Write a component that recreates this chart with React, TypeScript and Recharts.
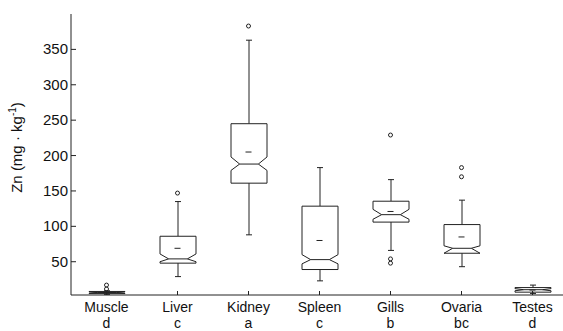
import { ComposedChart, Bar, Scatter, XAxis, YAxis } from 'recharts';

const categories = ['Muscle', 'Liver', 'Kidney', 'Spleen', 'Gills', 'Ovaria', 'Testes'];
const groups = ['d', 'c', 'a', 'c', 'b', 'bc', 'd'];
const whiskerLow = [3.5, 29, 88, 23, 66, 43, 5];
const q1 = [5, 48, 161, 39, 106, 62, 7];
const notchLow = [5.5, 50, 179, 47, 110, 62, 9];
const median = [6.5, 54, 188, 53, 116.5, 69, 10.5];
const notchHigh = [7.5, 61, 198, 60, 124, 72.5, 12];
const q3 = [8, 86, 245, 128.5, 135.5, 102.5, 13.5];
const whiskerHigh = [9, 135, 363, 183, 166, 137, 17];
const means = [6, 69, 205, 80, 121, 85, 10];
const outlierCats = ['Muscle', 'Muscle', 'Liver', 'Kidney', 'Gills', 'Gills', 'Gills', 'Ovaria', 'Ovaria'];
const outlierValues = [11.5, 17, 147, 383, 229, 48, 54, 170, 183];
const yTicks = [50, 100, 150, 200, 250, 300, 350];

const boxes = categories.map((name, i) => ({
  name,
  group: groups[i],
  range: [whiskerLow[i], whiskerHigh[i]],
  q1: q1[i],
  notchLow: notchLow[i],
  median: median[i],
  notchHigh: notchHigh[i],
  q3: q3[i],
  mean: means[i],
}));

const outliers = outlierCats.map((name, i) => ({ name, value: outlierValues[i] }));

const INK = '#222';
const FONT = '"Liberation Sans", Arial, sans-serif';

// the bar spans the whiskers; inner levels are placed with the same linear map
function BoxShape(props: any) {
  const { x, y, width, height, payload } = props;
  const [lo, hi] = payload.range;
  const top = Math.min(y, y + height);
  const bottom = Math.max(y, y + height);
  const py = (v: number) => top + ((hi - v) / (hi - lo)) * (bottom - top);
  const L = x;
  const R = x + width;
  const cx = x + width / 2;
  const inset = width * 0.24;
  const pts = [
    [L, py(payload.q3)],
    [R, py(payload.q3)],
    [R, py(payload.notchHigh)],
    [R - inset, py(payload.median)],
    [R, py(payload.notchLow)],
    [R, py(payload.q1)],
    [L, py(payload.q1)],
    [L, py(payload.notchLow)],
    [L + inset, py(payload.median)],
    [L, py(payload.notchHigh)],
  ]
    .map((p) => p.join(','))
    .join(' ');
  return (
    <g stroke={INK} strokeWidth={1} fill="none">
      <line x1={cx - 3} x2={cx + 3} y1={py(hi)} y2={py(hi)} />
      <line x1={cx} x2={cx} y1={py(hi)} y2={py(payload.q3)} />
      <polygon points={pts} fill="#fff" />
      <line x1={L + inset} x2={R - inset} y1={py(payload.median)} y2={py(payload.median)} />
      <line x1={cx} x2={cx} y1={py(payload.q1)} y2={py(lo)} />
      <line x1={cx - 3} x2={cx + 3} y1={py(lo)} y2={py(lo)} />
    </g>
  );
}

const MeanDash = (props: any) => (
  <line x1={props.cx - 3} x2={props.cx + 3} y1={props.cy} y2={props.cy} stroke={INK} strokeWidth={1} />
);

const OutlierDot = (props: any) => (
  <circle cx={props.cx} cy={props.cy} r={2} fill="none" stroke={INK} strokeWidth={1} />
);

const YTick = ({ x, y, payload }: any) => (
  <g>
    <line x1={x + 3} x2={x + 8} y1={y} y2={y} stroke={INK} />
    <text x={x} y={y} dy={5} textAnchor="end" fontSize={15} fontFamily={FONT} fill="#111">
      {payload.value}
    </text>
  </g>
);

const XTick = ({ x, y, payload, index }: any) => (
  <g>
    <line x1={x} x2={x} y1={y - 4} y2={y} stroke={INK} />
    <text x={x} y={y + 17} textAnchor="middle" fontSize={14} fontFamily={FONT} fill="#111">
      {payload.value}
    </text>
    <text x={x} y={y + 33} textAnchor="middle" fontSize={14} fontFamily={FONT} fill="#111">
      {groups[index]}
    </text>
  </g>
);

const YLabel = ({ viewBox }: any) => {
  const cy = viewBox.y + viewBox.height / 2 - 7;
  const cx = 22;
  return (
    <text
      x={cx}
      y={cy}
      transform={`rotate(-90 ${cx} ${cy})`}
      textAnchor="middle"
      fontSize={15}
      fontFamily={FONT}
      fill="#111"
    >
      Zn (mg · kg
      <tspan fontSize={10} dy={-6}>-1</tspan>
      <tspan dy={6}>)</tspan>
    </text>
  );
};

export default function App() {
  return (
    <div style={{ position: 'absolute', left: 0, top: 0, width: 563, height: 331, overflow: 'hidden', background: '#fff' }}>
      <ComposedChart width={568} height={331} data={boxes} margin={{ top: 14, right: 0, bottom: 0, left: 0 }}>
        <XAxis
          dataKey="name"
          height={36}
          tickSize={0}
          tickMargin={0}
          tick={<XTick />}
          axisLine={{ stroke: INK }}
          interval={0}
          allowDuplicatedCategory={false}
        />
        <YAxis
          width={71}
          domain={[3, 400]}
          ticks={yTicks}
          tickSize={0}
          tickMargin={3}
          tick={<YTick />}
          axisLine={{ stroke: INK }}
          allowDataOverflow
          label={<YLabel />}
        />
        <Bar dataKey="range" barSize={36} shape={<BoxShape />} isAnimationActive={false} />
        <Scatter dataKey="mean" shape={<MeanDash />} isAnimationActive={false} />
        <Scatter data={outliers} dataKey="value" shape={<OutlierDot />} isAnimationActive={false} />
      </ComposedChart>
    </div>
  );
}
